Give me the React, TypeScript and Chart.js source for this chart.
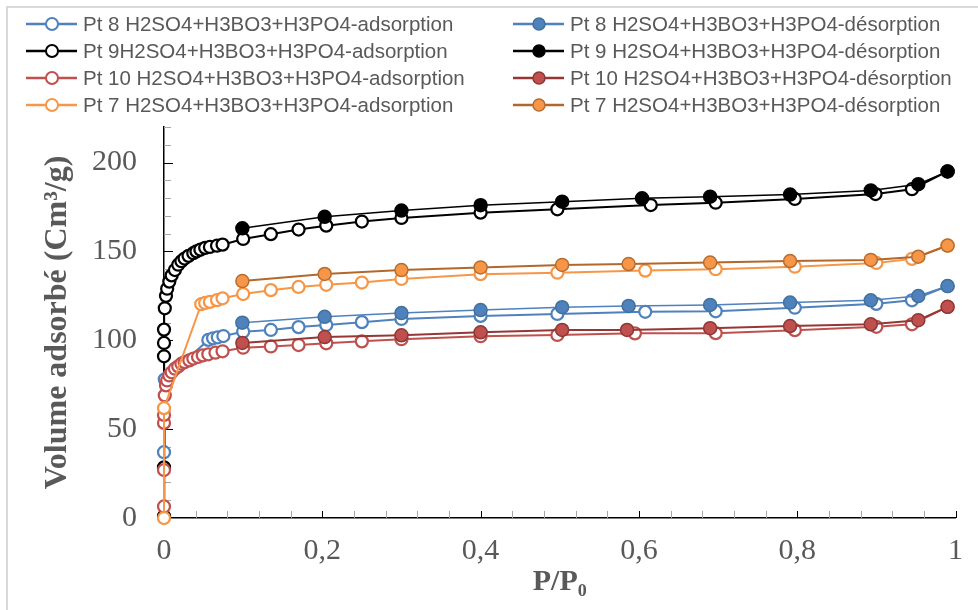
import React, { useEffect, useRef } from "react";
import { Chart, registerables } from "chart.js";

Chart.register(...registerables);

// ---------- data ----------
const xTickValues = [0, 0.2, 0.4, 0.6, 0.8, 1];
const yTickValues = [0, 50, 100, 150, 200];
const xMinorStep = 0.04;
const yMinorStep = 10;

const seriesNames = [
  "Pt 8 H2SO4+H3BO3+H3PO4-adsorption",
  "Pt 8 H2SO4+H3BO3+H3PO4-désorption",
  "Pt 9H2SO4+H3BO3+H3PO4-adsorption",
  "Pt 9 H2SO4+H3BO3+H3PO4-désorption",
  "Pt 10 H2SO4+H3BO3+H3PO4-adsorption",
  "Pt 10 H2SO4+H3BO3+H3PO4-désorption",
  "Pt 7 H2SO4+H3BO3+H3PO4-adsorption",
  "Pt 7 H2SO4+H3BO3+H3PO4-désorption",
];

const pt8AdsP = [0, 0.001, 0.056, 0.062, 0.068, 0.075, 0.1, 0.135, 0.17, 0.205, 0.25, 0.3, 0.4, 0.497, 0.608, 0.697, 0.797, 0.9, 0.945, 0.99];
const pt8AdsV = [37, 78, 100.2, 101.1, 101.7, 102.4, 104.8, 105.8, 107.4, 108.6, 110.2, 112, 113.7, 114.8, 116, 116.3, 118.3, 120.5, 122.5, 130.5];
const pt8DesP = [0.099, 0.203, 0.3, 0.4, 0.503, 0.587, 0.69, 0.791, 0.893, 0.953, 0.99];
const pt8DesV = [109.9, 113.2, 115.3, 117, 118.6, 119.3, 119.9, 121.2, 122.5, 124.9, 130.5];

const pt9AdsP = [0, 0, 0, 0, 0, 0.001, 0.0025, 0.004, 0.0067, 0.0097, 0.0138, 0.018, 0.022, 0.026, 0.031, 0.037, 0.041, 0.046, 0.052, 0.058, 0.067, 0.074, 0.1, 0.135, 0.17, 0.205, 0.25, 0.3, 0.4, 0.497, 0.615, 0.697, 0.797, 0.899, 0.945, 0.99];
const pt9AdsV = [1, 28.5, 91, 98.5, 106, 118, 125, 129, 133, 136.5, 139.5, 142.5, 144.5, 146, 147.5, 149, 150, 151, 152, 152.5, 153.2, 153.8, 157, 159.7, 162.3, 164.5, 166.8, 168.8, 171.8, 173.7, 176.1, 177.4, 179.5, 182.3, 185, 195];
const pt9DesP = [0.099, 0.203, 0.3, 0.4, 0.503, 0.604, 0.69, 0.791, 0.893, 0.953, 0.99];
const pt9DesV = [163, 169.5, 173, 176, 178, 179.9, 180.8, 182, 184.3, 187.8, 195];

const pt10AdsP = [0, 0, 0, 0, 0.001, 0.0025, 0.004, 0.0067, 0.0097, 0.0138, 0.018, 0.022, 0.026, 0.032, 0.037, 0.043, 0.049, 0.056, 0.065, 0.074, 0.1, 0.135, 0.17, 0.205, 0.25, 0.3, 0.4, 0.497, 0.595, 0.697, 0.797, 0.9, 0.945, 0.99];
const pt10AdsV = [6.5, 27, 53.5, 58, 69, 74.6, 77.4, 80.2, 82, 84, 85.3, 86.8, 87.7, 88.7, 89.7, 90.6, 91.5, 92.1, 93, 93.8, 95.8, 96.5, 97.3, 98.3, 99.4, 100.6, 102.3, 103, 103.9, 104, 105.7, 107.6, 109, 118.8];
const pt10DesP = [0.099, 0.203, 0.3, 0.4, 0.503, 0.585, 0.69, 0.791, 0.893, 0.953, 0.99];
const pt10DesV = [98.5, 101.8, 102.8, 104.5, 105.8, 105.8, 106.8, 108, 109, 111.3, 118.8];

const pt7AdsP = [0, 0, 0.047, 0.052, 0.058, 0.067, 0.074, 0.1, 0.135, 0.17, 0.205, 0.25, 0.3, 0.4, 0.497, 0.608, 0.697, 0.797, 0.9, 0.945, 0.99];
const pt7AdsV = [0, 61.8, 120.3, 121, 121.6, 122.6, 123.6, 126, 128.2, 130, 131.2, 132.5, 134.5, 137.2, 138, 139.2, 140, 141.4, 143.5, 145.8, 153.3];
const pt7DesP = [0.099, 0.203, 0.3, 0.4, 0.503, 0.587, 0.69, 0.791, 0.893, 0.953, 0.99];
const pt7DesV = [133.3, 137.3, 139.5, 141, 142.4, 142.9, 143.7, 144.6, 145.2, 147, 153.3];

// ---------- styles ----------
const BLUE = "#4f81bd";
const RED = "#c0504d";
const ORANGE = "#f79646";
const TEXT = "#595959";

const pts = (xs: number[], ys: number[]) => xs.map((x, i) => ({ x, y: ys[i] }));

const openStyle = (color: string) => ({
  borderColor: color,
  backgroundColor: "#ffffff",
  pointBorderColor: color,
  pointBackgroundColor: "#ffffff",
  borderWidth: 2,
  pointBorderWidth: 2.25,
  pointRadius: 6,
  open: true,
});
const filledStyle = (line: string, fill: string, edge: string, lw: number) => ({
  borderColor: line,
  backgroundColor: fill,
  pointBorderColor: edge,
  pointBackgroundColor: fill,
  borderWidth: lw,
  pointBorderWidth: 1.5,
  pointRadius: 6.5,
  open: false,
});

const seriesData = [
  pts(pt8AdsP, pt8AdsV),
  pts(pt8DesP, pt8DesV),
  pts(pt9AdsP, pt9AdsV),
  pts(pt9DesP, pt9DesV),
  pts(pt10AdsP, pt10AdsV),
  pts(pt10DesP, pt10DesV),
  pts(pt7AdsP, pt7AdsV),
  pts(pt7DesP, pt7DesV),
];
const seriesStyles = [
  openStyle(BLUE),
  filledStyle(BLUE, BLUE, "#41719c", 1.5),
  openStyle("#000000"),
  filledStyle("#000000", "#000000", "#000000", 1.5),
  openStyle(RED),
  filledStyle("#953735", RED, "#8c3836", 2),
  openStyle(ORANGE),
  filledStyle("#b3672b", ORANGE, "#b66d31", 2),
];

const decorPlugin = {
  id: "decor",
  beforeDraw(chart: any) {
    const ctx = chart.ctx;
    ctx.save();
    ctx.fillStyle = "#ffffff";
    ctx.fillRect(0, 0, chart.width, chart.height);
    ctx.strokeStyle = "#d9d9d9";
    ctx.lineWidth = 2;
    ctx.beginPath();
    ctx.moveTo(7, chart.height);
    ctx.lineTo(7, 7);
    ctx.lineTo(chart.width, 7);
    ctx.stroke();
    ctx.restore();
  },
  beforeDatasetsDraw(chart: any) {
    const ctx = chart.ctx;
    const xs = chart.scales.x;
    const ys = chart.scales.y;
    const { left, bottom } = chart.chartArea;
    ctx.save();
    ctx.lineWidth = 1;
    for (let v = yMinorStep; v <= ys.max + 1e-9; v += yMinorStep) {
      const major = Math.abs(v % 50) < 1e-6;
      const y = Math.round(ys.getPixelForValue(v)) + 0.5;
      ctx.strokeStyle = major ? "#000000" : "#a6a6a6";
      ctx.beginPath();
      ctx.moveTo(left, y);
      ctx.lineTo(left + (major ? 9 : 7), y);
      ctx.stroke();
    }
    for (let i = 1; i * xMinorStep <= xs.max + 1e-9; i++) {
      const v = i * xMinorStep;
      const major = i % 5 === 0;
      const x = Math.round(xs.getPixelForValue(v)) + 0.5;
      ctx.strokeStyle = major ? "#000000" : "#a6a6a6";
      ctx.beginPath();
      ctx.moveTo(x, bottom);
      ctx.lineTo(x, bottom - 7);
      ctx.stroke();
    }
    ctx.restore();
  },
  afterDraw(chart: any) {
    const ctx = chart.ctx;
    const ds = chart.data.datasets;
    const colLine = [26, 513];
    const rowY = [24, 51, 78, 105];
    ctx.save();
    ctx.font = "20.5px 'Liberation Sans', Arial, sans-serif";
    ctx.textBaseline = "middle";
    ctx.textAlign = "left";
    ds.forEach((d: any, i: number) => {
      const col = i % 2;
      const row = Math.floor(i / 2);
      const x0 = colLine[col];
      const y = rowY[row];
      ctx.strokeStyle = d.borderColor;
      ctx.lineWidth = 2.5;
      ctx.beginPath();
      ctx.moveTo(x0, y);
      ctx.lineTo(x0 + 51, y);
      ctx.stroke();
      ctx.beginPath();
      ctx.arc(x0 + 26, y, 6, 0, Math.PI * 2);
      ctx.fillStyle = d.pointBackgroundColor;
      ctx.fill();
      ctx.lineWidth = d.open ? 2 : 1.5;
      ctx.strokeStyle = d.pointBorderColor;
      ctx.stroke();
      ctx.fillStyle = TEXT;
      ctx.fillText(d.label, x0 + 57, y + 1);
    });
    ctx.restore();
  },
};

export default function App() {
  const canvasRef = useRef<HTMLCanvasElement | null>(null);

  useEffect(() => {
    if (!canvasRef.current) return;
    const datasets = seriesData.map((data, i) => ({
      label: seriesNames[i],
      data,
      showLine: true,
      tension: 0,
      clip: false,
      order: seriesData.length - 1 - i,
      ...seriesStyles[i],
    }));
    const chart = new Chart(canvasRef.current, {
      type: "scatter",
      data: { datasets: datasets as any },
      options: {
        responsive: false,
        animation: false,
        layout: { padding: { top: 127, right: 19, left: 0, bottom: 0 } },
        plugins: {
          legend: { display: false },
          tooltip: { enabled: false },
        },
        scales: {
          x: {
            type: "linear",
            min: 0,
            max: 1,
            afterFit: (s: any) => {
              s.height = 92;
            },
            afterBuildTicks: (s: any) => {
              s.ticks = xTickValues.map((value) => ({ value }));
            },
            grid: { display: false, drawTicks: false },
            border: { display: true, color: "#000000", width: 1.5 },
            ticks: {
              padding: 15,
              color: TEXT,
              font: { family: "'Liberation Serif', 'Times New Roman', serif", size: 30 },
              callback: (v: any) => String(v).replace(".", ","),
            },
            title: {
              display: true,
              text: "P/P₀",
              color: TEXT,
              font: { family: "'Liberation Serif', 'Times New Roman', serif", size: 30, weight: "bold" },
              padding: { top: 0, bottom: 10 },
            },
          },
          y: {
            type: "linear",
            min: 0,
            max: 220,
            afterFit: (s: any) => {
              s.width = 164;
            },
            afterBuildTicks: (s: any) => {
              s.ticks = yTickValues.map((value) => ({ value }));
            },
            grid: { display: false, drawTicks: false },
            border: { display: true, color: "#000000", width: 1.5 },
            ticks: {
              padding: 27,
              color: TEXT,
              font: { family: "'Liberation Serif', 'Times New Roman', serif", size: 30 },
            },
            title: {
              display: true,
              text: "Volume adsorbé (Cm³/g)",
              color: TEXT,
              font: { family: "'Liberation Serif', 'Times New Roman', serif", size: 32, weight: "bold" },
              padding: { top: 39, bottom: 0 },
            },
          },
        },
      } as any,
      plugins: [decorPlugin],
    });
    return () => chart.destroy();
  }, []);

  return (
    <div style={{ position: "absolute", left: 0, top: 0, width: 978, height: 610 }}>
      <canvas ref={canvasRef} width={978} height={610} />
    </div>
  );
}
